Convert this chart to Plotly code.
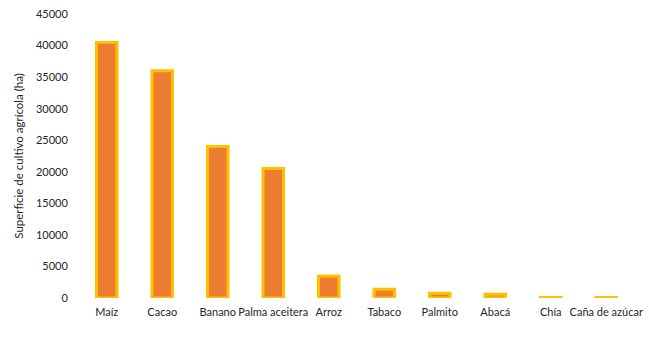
import plotly.graph_objects as go

# Cultivated area by crop (hectares)
cultivos = ["Maíz", "Cacao", "Banano", "Palma aceitera", "Arroz",
            "Tabaco", "Palmito", "Abacá", "Chía", "Caña de azúcar"]
superficie_ha = [40500, 36000, 24000, 20500, 3500, 1400, 750, 600, 80, 80]

y_ticks = [0, 5000, 10000, 15000, 20000, 25000, 30000, 35000, 40000, 45000]

fig = go.Figure()
fig.add_trace(go.Bar(
    x=cultivos,
    y=superficie_ha,
    marker=dict(color="#ED7D31", line=dict(color="#FFC000", width=3)),
))

fig.update_layout(
    width=649,
    height=345,
    margin=dict(l=79, r=15, t=14, b=47),
    paper_bgcolor="white",
    plot_bgcolor="white",
    bargap=0.63,
    showlegend=False,
    font=dict(family="Lato, Open Sans, sans-serif", size=11, color="#262626"),
    xaxis=dict(
        showgrid=False, showline=False, zeroline=False,
        tickangle=0, automargin=False,
        ticks="outside", ticklen=4, tickcolor="rgba(0,0,0,0)",
        tickfont=dict(size=11),
    ),
    yaxis=dict(
        range=[0, 45000],
        tickvals=y_ticks,
        ticktext=[str(v) for v in y_ticks],
        showgrid=False, showline=False, zeroline=False,
        automargin=False,
        ticks="outside", ticklen=8, tickcolor="rgba(0,0,0,0)",
        tickfont=dict(size=11),
        title=dict(text="Superficie de cultivo agrícola (ha)",
                   font=dict(size=11.5), standoff=9),
    ),
)

fig.write_html("out.html")
